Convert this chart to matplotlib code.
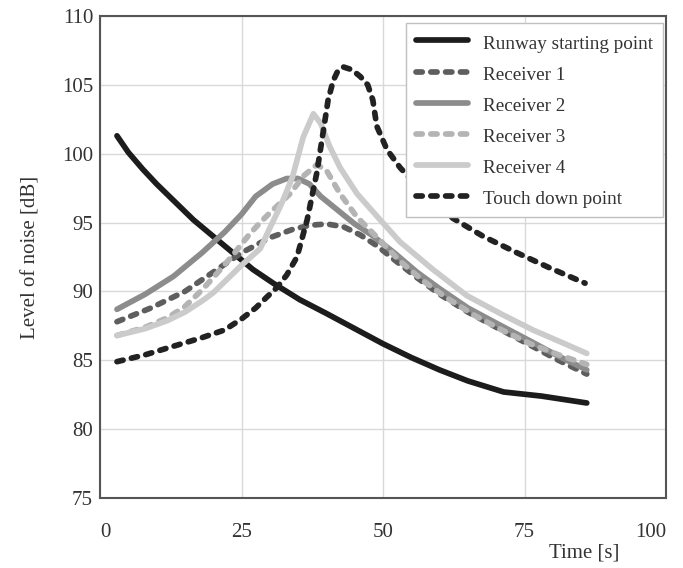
import matplotlib.pyplot as plt

plt.rcParams['font.family'] = ['Liberation Serif', 'DejaVu Serif']

# Data (time [s], level [dB])
runway_t = [3, 5, 7.5, 10, 12.5, 16.5, 20, 23.5, 27, 30.6, 35.3, 40, 45, 50, 55, 60, 65, 71.3, 78, 86]
runway_db = [101.3, 100.1, 98.9, 97.8, 96.8, 95.2, 94.0, 92.8, 91.6, 90.6, 89.4, 88.4, 87.3, 86.2, 85.2, 84.3, 83.5, 82.7, 82.4, 81.9]

rec1_t = [3, 9, 15, 20, 25, 30, 34, 37, 40, 43, 46, 49, 52, 56, 60, 65, 70, 76, 81, 86]
rec1_db = [87.8, 88.8, 90.0, 91.4, 92.8, 93.9, 94.5, 94.8, 94.9, 94.7, 94.1, 93.3, 92.3, 91.0, 89.8, 88.5, 87.4, 86.1, 85.0, 84.0]

rec2_t = [3, 8, 13, 18, 22, 25, 27.5, 30.5, 33, 35, 37, 39, 42, 45, 48, 52, 56, 60, 65, 70, 76, 81, 86]
rec2_db = [88.7, 89.8, 91.1, 92.8, 94.3, 95.6, 96.9, 97.8, 98.2, 98.2, 97.8, 96.9, 95.9, 94.9, 94.1, 92.8, 91.4, 90.2, 88.8, 87.7, 86.4, 85.3, 84.3]

rec3_t = [3, 8, 12, 15, 18, 20, 23, 26.5, 28.3, 30, 33.6, 36, 38.3, 40, 42.4, 45.4, 49.5, 53, 57, 61, 66, 71, 76, 81, 86]
rec3_db = [86.8, 87.4, 88.1, 88.9, 90.1, 91.0, 92.4, 94.2, 95.0, 95.7, 97.1, 98.4, 99.2, 98.8, 97.1, 95.4, 93.7, 92.2, 90.8, 89.6, 88.3, 87.2, 86.2, 85.4, 84.7]

rec4_t = [3, 8, 12, 15, 18, 20, 22, 25, 28.3, 30, 32, 34, 35.9, 37.7, 39, 40.5, 42.4, 45.4, 49.5, 53, 58.8, 64.8, 70.7, 76.5, 81, 86]
rec4_db = [86.8, 87.3, 87.9, 88.5, 89.3, 89.9, 90.7, 91.9, 93.1, 94.6, 96.3, 98.3, 101.2, 102.9, 102.2, 100.6, 99.0, 97.1, 95.2, 93.6, 91.6, 89.7, 88.4, 87.2, 86.4, 85.5]

touch_t = [3, 8, 12, 17.7, 22, 25, 27.5, 29.5, 31.3, 33, 34.8, 36.6, 38.3, 39.4, 40.3, 41.2, 42, 43, 44.5, 46, 47.3, 48.2, 48.9, 50.7, 53, 57, 62.4, 67.7, 73.7, 79.5, 85.7]
touch_db = [84.9, 85.4, 85.9, 86.6, 87.2, 88.0, 88.8, 89.6, 90.3, 91.2, 92.5, 95.2, 98.6, 101.5, 103.9, 105.3, 106.0, 106.3, 106.1, 105.6, 105.0, 103.9, 102.0, 100.3, 99.0, 97.2, 95.3, 94.0, 92.8, 91.7, 90.6]

labels = ['Runway starting point', 'Receiver 1', 'Receiver 2', 'Receiver 3', 'Receiver 4', 'Touch down point']
x_ticks = [0, 25, 50, 75, 100]
y_ticks = [75, 80, 85, 90, 95, 100, 105, 110]

fig = plt.figure(figsize=(6.83, 5.68), dpi=100)
ax = fig.add_axes([100 / 683, 70 / 568, 566 / 683, 482 / 568])

lw = 4.1
dash = (1.1, 1.5)
common = dict(lw=lw, solid_capstyle='round', dash_capstyle='round',
              solid_joinstyle='round', dash_joinstyle='round')

ax.plot(runway_t, runway_db, color='#1c1c1c', label=labels[0], **common)
ax.plot(rec1_t, rec1_db, color='#5e5e5e', dashes=dash, label=labels[1], **common)
ax.plot(rec2_t, rec2_db, color='#8c8c8c', label=labels[2], **common)
ax.plot(rec3_t, rec3_db, color='#b4b4b4', dashes=dash, label=labels[3], **common)
ax.plot(rec4_t, rec4_db, color='#cbcbcb', label=labels[4], **common)
ax.plot(touch_t, touch_db, color='#222222', dashes=dash, label=labels[5], **common)

ax.set_xlim(0, 100)
ax.set_ylim(75, 110)
ax.set_xticks(x_ticks)
ax.set_yticks(y_ticks)
ax.grid(True, color='#d9d9d9', lw=1)
ax.set_axisbelow(True)

ax.tick_params(axis='both', length=0, labelsize=15, colors='#333333')
ax.tick_params(axis='x', pad=18)
ax.tick_params(axis='y', pad=5)
xt = ax.get_xticklabels()
xt[0].set_ha('left')
xt[-1].set_ha('right')

for s in ax.spines.values():
    s.set_color('#555555')
    s.set_linewidth(1.5)

ax.set_xlabel('Time [s]', fontsize=15, color='#333333')
ax.xaxis.set_label_coords(0.855, -0.114)
ax.xaxis.label.set_va('center')
ax.set_ylabel('Level of noise [dB]', fontsize=15, color='#333333')
ax.yaxis.set_label_coords(-0.122, 0.5)
ax.yaxis.label.set_va('center')

leg = ax.legend(loc='upper right', bbox_to_anchor=(0.9947, 0.986), borderaxespad=0,
                fontsize=13.8, handlelength=2.71, handleheight=1.2, handletextpad=0.83,
                borderpad=0.5, labelspacing=0.56, fancybox=False, framealpha=1,
                edgecolor='#c0c0c0')
leg.get_frame().set_linewidth(1)
for t in leg.get_texts():
    t.set_color('#333333')

fig.savefig('out.png', dpi=100)
